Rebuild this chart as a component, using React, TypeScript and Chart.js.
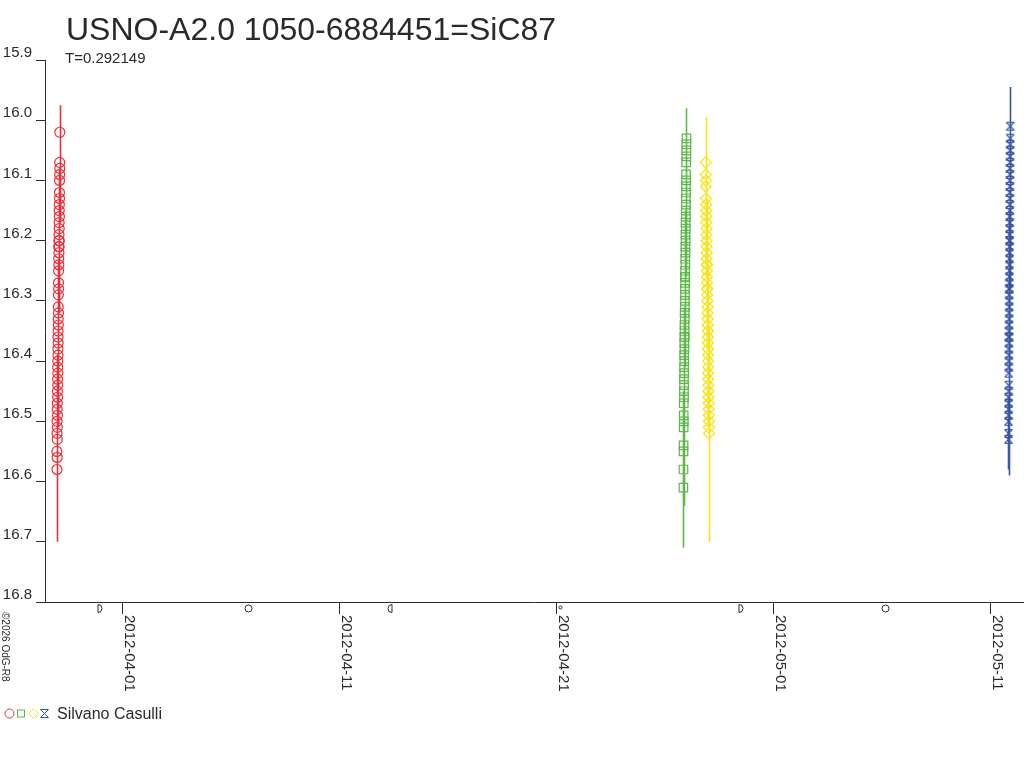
import React, { useEffect, useRef } from 'react';
import { Chart, registerables } from 'chart.js';

Chart.register(...registerables);

const TITLE = 'USNO-A2.0 1050-6884451=SiC87';
const SUBTITLE = 'T=0.292149';
const OBSERVER = 'Silvano Casulli';
const COPYRIGHT = '©2026 OdG-R8';

// x values: days since 2012-04-01 00:00
const xTickValues = [0, 10, 20, 30, 40];
const xTickLabels = ['2012-04-01', '2012-04-11', '2012-04-21', '2012-05-01', '2012-05-11'];
const yTickValues = [15.9, 16.0, 16.1, 16.2, 16.3, 16.4, 16.5, 16.6, 16.7, 16.8];
const yTickLabels = ['15.9', '16.0', '16.1', '16.2', '16.3', '16.4', '16.5', '16.6', '16.7', '16.8'];
const X_MIN = -3.55;
const X_MAX = 41.52;
const Y_MIN = 15.9;
const Y_MAX = 16.8;

const moonDays = [-1.06, 5.81, 12.35, 20.18, 28.48, 35.16];
const moonPhases = ['first', 'full', 'last', 'new', 'first', 'full'];

const redTimes = [
  -3.002, -2.999, -2.996, -2.994, -2.991, -2.988, -2.985, -2.983, -2.980, -2.977,
  -2.974, -2.972, -2.969, -2.966, -2.963, -2.961, -2.958, -2.955, -2.952, -2.950,
  -2.947, -2.944, -2.941, -2.939, -2.936, -2.933, -2.930, -2.928, -2.925, -2.922,
  -2.919, -2.917, -2.914, -2.911, -2.908, -2.906, -2.903, -2.900, -2.897, -2.895,
  -2.892, -2.889, -2.886, -2.884, -2.881, -2.878, -2.875, -2.873, -2.870, -2.867,
];
const redMags = [
  16.55, 16.58, 16.52, 16.50, 16.56, 16.48, 16.53, 16.47, 16.51, 16.45,
  16.49, 16.43, 16.46, 16.41, 16.44, 16.40, 16.42, 16.38, 16.36, 16.39,
  16.35, 16.37, 16.33, 16.31, 16.34, 16.29, 16.32, 16.27, 16.25, 16.28,
  16.23, 16.21, 16.24, 16.20, 16.22, 16.19, 16.21, 16.17, 16.18, 16.15,
  16.20, 16.14, 16.16, 16.12, 16.13, 16.10, 16.09, 16.07, 16.08, 16.02,
];
const redErrs = [
  0.15, 0.09, 0.08, 0.07, 0.06, 0.07, 0.06, 0.06, 0.05, 0.06,
  0.05, 0.06, 0.05, 0.05, 0.05, 0.05, 0.04, 0.05, 0.05, 0.04,
  0.05, 0.04, 0.05, 0.04, 0.04, 0.05, 0.04, 0.04, 0.05, 0.04,
  0.04, 0.04, 0.05, 0.04, 0.04, 0.04, 0.04, 0.05, 0.04, 0.04,
  0.04, 0.04, 0.04, 0.04, 0.04, 0.05, 0.04, 0.04, 0.04, 0.045,
];

const greenTimes = [
  25.870, 25.873, 25.875, 25.878, 25.881, 25.883, 25.886, 25.889, 25.892, 25.894,
  25.897, 25.900, 25.902, 25.905, 25.908, 25.911, 25.913, 25.916, 25.919, 25.921,
  25.924, 25.927, 25.930, 25.932, 25.935, 25.938, 25.940, 25.943, 25.946, 25.949,
  25.951, 25.954, 25.957, 25.959, 25.962, 25.965, 25.968, 25.970, 25.973, 25.976,
  25.978, 25.981, 25.984, 25.987, 25.989, 25.992, 25.995, 25.997, 26.000, 26.003,
  26.006, 26.008, 26.011,
];
const greenMags = [
  16.61, 16.58, 16.55, 16.54, 16.51, 16.49, 16.47, 16.50, 16.45, 16.43,
  16.46, 16.41, 16.44, 16.39, 16.42, 16.37, 16.40, 16.36, 16.38, 16.34,
  16.35, 16.32, 16.36, 16.30, 16.33, 16.28, 16.31, 16.26, 16.29, 16.25,
  16.27, 16.23, 16.26, 16.21, 16.24, 16.19, 16.22, 16.17, 16.20, 16.15,
  16.18, 16.13, 16.16, 16.11, 16.14, 16.09, 16.12, 16.07, 16.10, 16.05,
  16.06, 16.04, 16.03,
];
const greenErrs = [
  0.10, 0.13, 0.09, 0.08, 0.08, 0.07, 0.07, 0.06, 0.06, 0.06,
  0.06, 0.05, 0.06, 0.05, 0.05, 0.05, 0.05, 0.05, 0.05, 0.04,
  0.05, 0.04, 0.05, 0.04, 0.05, 0.04, 0.04, 0.05, 0.04, 0.04,
  0.04, 0.05, 0.04, 0.04, 0.04, 0.04, 0.04, 0.05, 0.04, 0.04,
  0.04, 0.04, 0.04, 0.04, 0.04, 0.05, 0.04, 0.04, 0.04, 0.05,
  0.04, 0.04, 0.05,
];

const yellowTimes = [
  26.898, 26.901, 26.905, 26.908, 26.911, 26.915, 26.918, 26.921, 26.925, 26.928,
  26.932, 26.935, 26.938, 26.942, 26.945, 26.948, 26.952, 26.955, 26.959, 26.962,
  26.965, 26.969, 26.972, 26.975, 26.979, 26.982, 26.986, 26.989, 26.992, 26.996,
  26.999, 27.002, 27.006, 27.009, 27.013, 27.016, 27.019, 27.023, 27.026, 27.029,
  27.033, 27.036, 27.040, 27.043, 27.046, 27.050,
];
const yellowMags = [
  16.07, 16.09, 16.11, 16.13, 16.10, 16.15, 16.14, 16.17, 16.16, 16.19,
  16.18, 16.21, 16.20, 16.23, 16.22, 16.24, 16.26, 16.25, 16.28, 16.27,
  16.29, 16.24, 16.30, 16.28, 16.32, 16.31, 16.34, 16.33, 16.36, 16.35,
  16.38, 16.37, 16.40, 16.39, 16.42, 16.41, 16.43, 16.45, 16.44, 16.46,
  16.48, 16.47, 16.49, 16.51, 16.50, 16.52,
];
const yellowErrs = [
  0.075, 0.07, 0.07, 0.06, 0.07, 0.06, 0.07, 0.06, 0.06, 0.07,
  0.06, 0.06, 0.07, 0.06, 0.06, 0.07, 0.06, 0.06, 0.07, 0.06,
  0.06, 0.06, 0.07, 0.06, 0.06, 0.07, 0.06, 0.06, 0.07, 0.06,
  0.06, 0.07, 0.06, 0.06, 0.07, 0.06, 0.07, 0.06, 0.07, 0.07,
  0.06, 0.08, 0.07, 0.09, 0.07, 0.18,
];

const blueTimes = [
  40.850, 40.852, 40.853, 40.855, 40.856, 40.858, 40.859, 40.861, 40.862, 40.864,
  40.865, 40.867, 40.868, 40.870, 40.871, 40.873, 40.874, 40.876, 40.877, 40.879,
  40.880, 40.882, 40.883, 40.885, 40.886, 40.888, 40.889, 40.891, 40.892, 40.894,
  40.895, 40.897, 40.898, 40.900, 40.901, 40.903, 40.904, 40.906, 40.907, 40.909,
  40.910, 40.912, 40.913, 40.915, 40.916, 40.918, 40.919, 40.921, 40.922, 40.924,
  40.925, 40.927, 40.930,
];
const blueMags = [
  16.52, 16.50, 16.53, 16.48, 16.46, 16.49, 16.47, 16.44, 16.42, 16.45,
  16.40, 16.38, 16.41, 16.36, 16.39, 16.37, 16.34, 16.35, 16.32, 16.36,
  16.30, 16.33, 16.28, 16.31, 16.29, 16.26, 16.27, 16.24, 16.28, 16.22,
  16.25, 16.20, 16.23, 16.21, 16.18, 16.19, 16.16, 16.20, 16.14, 16.17,
  16.12, 16.15, 16.13, 16.10, 16.11, 16.08, 16.09, 16.06, 16.07, 16.04,
  16.05, 16.03, 16.01,
];
const blueErrs = [
  0.06, 0.06, 0.06, 0.06, 0.05, 0.06, 0.05, 0.06, 0.05, 0.05,
  0.06, 0.05, 0.05, 0.06, 0.05, 0.05, 0.05, 0.06, 0.05, 0.05,
  0.05, 0.05, 0.06, 0.05, 0.05, 0.05, 0.05, 0.05, 0.06, 0.05,
  0.05, 0.05, 0.05, 0.06, 0.05, 0.05, 0.05, 0.05, 0.05, 0.05,
  0.06, 0.05, 0.05, 0.05, 0.05, 0.05, 0.06, 0.05, 0.05, 0.05,
  0.05, 0.06, 0.065,
];

const RED = '#ec2f38';
const GREEN = '#5cb848';
const YELLOW = '#f7e41c';
const BLUE = '#3a56a6';
const AXIS = '#2a2a2a';
const TEXT = '#2a2a2a';
const FONT = '"Liberation Sans", Arial, sans-serif';

function makePoints(t: number[], m: number[], e: number[]) {
  const n = Math.min(t.length, m.length, e.length);
  const out: { x: number; y: number; err: number }[] = [];
  for (let i = 0; i < n; i++) out.push({ x: t[i], y: m[i], err: e[i] });
  return out;
}

function drawBlueGlyph(ctx: CanvasRenderingContext2D, x: number, y: number) {
  ctx.beginPath();
  ctx.moveTo(x - 4, y - 4); ctx.lineTo(x + 4, y + 4);
  ctx.moveTo(x + 4, y - 4); ctx.lineTo(x - 4, y + 4);
  ctx.moveTo(x - 4, y - 4); ctx.lineTo(x + 4, y - 4);
  ctx.moveTo(x - 4, y + 4); ctx.lineTo(x + 4, y + 4);
  ctx.stroke();
}

function makeBlueMarker(): HTMLCanvasElement {
  const c = document.createElement('canvas');
  c.width = 11;
  c.height = 11;
  const g = c.getContext('2d')!;
  g.strokeStyle = BLUE;
  g.lineWidth = 1.2;
  drawBlueGlyph(g, 5.5, 5.5);
  return c;
}

const errorBarsPlugin = {
  id: 'errorBars',
  beforeDatasetsDraw(chart: any) {
    const { ctx, chartArea, scales } = chart;
    const xs = scales.x;
    const ys = scales.y;
    ctx.save();
    ctx.beginPath();
    ctx.rect(chartArea.left, chartArea.top, chartArea.right - chartArea.left, chartArea.bottom - chartArea.top);
    ctx.clip();
    chart.data.datasets.forEach((ds: any) => {
      ctx.strokeStyle = ds.borderColor;
      ctx.lineWidth = 1.6;
      ctx.beginPath();
      ds.data.forEach((p: any) => {
        const px = Math.round(xs.getPixelForValue(p.x)) + 0.5;
        ctx.moveTo(px, ys.getPixelForValue(p.y - p.err));
        ctx.lineTo(px, ys.getPixelForValue(p.y + p.err));
      });
      ctx.stroke();
    });
    ctx.restore();
  },
};

const decorPlugin = {
  id: 'decor',
  afterDraw(chart: any) {
    const { ctx, chartArea, scales } = chart;
    const xs = scales.x;
    ctx.save();
    // title
    ctx.fillStyle = TEXT;
    ctx.textAlign = 'left';
    ctx.textBaseline = 'alphabetic';
    ctx.font = `32px ${FONT}`;
    ctx.fillText(TITLE, 66, 40);
    ctx.font = `15px ${FONT}`;
    ctx.fillText(SUBTITLE, 65, 63);

    // x tick labels rotated clockwise
    ctx.font = `15px ${FONT}`;
    ctx.textBaseline = 'middle';
    xTickValues.forEach((v, i) => {
      const px = xs.getPixelForValue(v);
      ctx.save();
      ctx.translate(px + 7, chartArea.bottom + 13);
      ctx.rotate(Math.PI / 2);
      ctx.fillText(xTickLabels[i], 0, 0);
      ctx.restore();
    });

    // moon phases
    ctx.strokeStyle = AXIS;
    ctx.lineWidth = 1;
    const my = chartArea.bottom + 6.5;
    moonDays.forEach((d, i) => {
      const mx = Math.round(xs.getPixelForValue(d)) + 0.5;
      const ph = moonPhases[i];
      ctx.beginPath();
      if (ph === 'full') {
        ctx.arc(mx, my, 3.5, 0, Math.PI * 2);
      } else if (ph === 'new') {
        ctx.arc(mx, my - 1, 1.5, 0, Math.PI * 2);
      } else if (ph === 'first') {
        ctx.moveTo(mx - 1.5, my - 4);
        ctx.lineTo(mx - 1.5, my + 4);
        ctx.arc(mx - 1.5, my, 4, Math.PI / 2, -Math.PI / 2, true);
      } else {
        ctx.moveTo(mx + 1.5, my - 4);
        ctx.lineTo(mx + 1.5, my + 4);
        ctx.arc(mx + 1.5, my, 4, Math.PI / 2, Math.PI * 1.5, false);
      }
      ctx.stroke();
    });

    // legend
    const ly = 713.5;
    ctx.lineWidth = 1;
    ctx.strokeStyle = RED;
    ctx.beginPath();
    ctx.arc(9.5, ly, 4.5, 0, Math.PI * 2);
    ctx.stroke();
    ctx.strokeStyle = GREEN;
    ctx.strokeRect(17.5, ly - 3.5, 7, 7);
    ctx.strokeStyle = YELLOW;
    ctx.beginPath();
    ctx.moveTo(33.5, ly - 5);
    ctx.lineTo(38.5, ly);
    ctx.lineTo(33.5, ly + 5);
    ctx.lineTo(28.5, ly);
    ctx.closePath();
    ctx.stroke();
    ctx.strokeStyle = BLUE;
    drawBlueGlyph(ctx, 44.5, ly);
    ctx.fillStyle = TEXT;
    ctx.font = `16px ${FONT}`;
    ctx.textBaseline = 'alphabetic';
    ctx.textAlign = 'left';
    ctx.fillText(OBSERVER, 57, 719);

    // copyright, rotated
    ctx.font = `10px ${FONT}`;
    ctx.textBaseline = 'middle';
    ctx.save();
    ctx.translate(5, 612);
    ctx.rotate(Math.PI / 2);
    ctx.fillText(COPYRIGHT, 0, 0);
    ctx.restore();

    ctx.restore();
  },
};

export default function App() {
  const ref = useRef<HTMLCanvasElement | null>(null);

  useEffect(() => {
    document.body.style.margin = '0';
    const canvas = ref.current;
    if (!canvas) return;
    const blueMarker = makeBlueMarker();
    const chart = new Chart(canvas, {
      type: 'scatter',
      data: {
        datasets: [
          {
            label: 'V1',
            data: makePoints(redTimes, redMags, redErrs),
            borderColor: RED,
            backgroundColor: 'rgba(0,0,0,0)',
            pointStyle: 'circle',
            pointRadius: 5,
            borderWidth: 1.2,
          },
          {
            label: 'V2',
            data: makePoints(greenTimes, greenMags, greenErrs),
            borderColor: GREEN,
            backgroundColor: 'rgba(0,0,0,0)',
            pointStyle: 'rect',
            pointRadius: 6,
            borderWidth: 1.2,
          },
          {
            label: 'V3',
            data: makePoints(yellowTimes, yellowMags, yellowErrs),
            borderColor: YELLOW,
            backgroundColor: 'rgba(0,0,0,0)',
            pointStyle: 'rectRot',
            pointRadius: 5.5,
            borderWidth: 1.3,
          },
          {
            label: 'V4',
            data: makePoints(blueTimes, blueMags, blueErrs),
            borderColor: BLUE,
            backgroundColor: 'rgba(0,0,0,0)',
            pointStyle: blueMarker as any,
            pointRadius: 5,
            borderWidth: 1,
          },
        ] as any,
      },
      options: {
        responsive: false,
        animation: false,
        devicePixelRatio: 1,
        layout: { autoPadding: false, padding: { top: 60, right: 1, bottom: 0, left: 0 } },
        plugins: {
          legend: { display: false },
          tooltip: { enabled: false },
          title: { display: false },
        },
        scales: {
          x: {
            type: 'linear',
            min: X_MIN,
            max: X_MAX,
            afterBuildTicks: (s: any) => {
              s.ticks = xTickValues.map((v) => ({ value: v }));
            },
            afterFit: (s: any) => {
              s.height = 166;
              s.paddingLeft = 0;
              s.paddingRight = 0;
            },
            ticks: { display: false },
            grid: {
              display: true,
              drawOnChartArea: false,
              drawTicks: true,
              tickLength: 12,
              color: AXIS,
              lineWidth: 1,
            },
            border: { display: true, color: AXIS, width: 1 },
          },
          y: {
            type: 'linear',
            reverse: true,
            min: Y_MIN,
            max: Y_MAX,
            afterBuildTicks: (s: any) => {
              s.ticks = yTickValues.map((v) => ({ value: v }));
            },
            afterFit: (s: any) => {
              s.width = 45;
              s.paddingTop = 0;
              s.paddingBottom = 0;
            },
            ticks: {
              autoSkip: false,
              callback: (_v: any, i: number) => yTickLabels[i],
              font: { family: FONT, size: 15 },
              color: TEXT,
              padding: 4,
              labelOffset: -7,
            },
            grid: {
              display: true,
              drawOnChartArea: false,
              drawTicks: true,
              tickLength: 9,
              color: AXIS,
              lineWidth: 1,
            },
            border: { display: true, color: AXIS, width: 1 },
          },
        },
      },
      plugins: [errorBarsPlugin, decorPlugin],
    } as any);
    return () => {
      chart.destroy();
    };
  }, []);

  return (
    <div style={{ position: 'absolute', left: 0, top: 0, width: 1024, height: 768, background: '#fff' }}>
      <canvas ref={ref} width={1024} height={768} style={{ width: 1024, height: 768, display: 'block' }} />
    </div>
  );
}
